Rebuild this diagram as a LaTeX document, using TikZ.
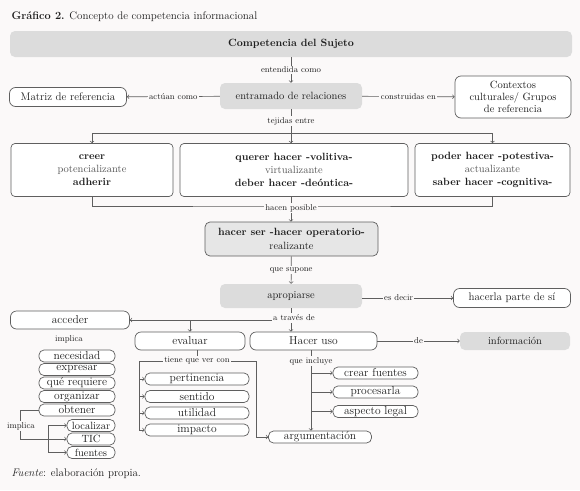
\documentclass[tikz,border=0pt]{standalone}
\usepackage{tikz}
\usetikzlibrary{positioning, arrows}

\definecolor{paper}{RGB}{251,249,249}
\definecolor{boxgray}{RGB}{220,220,220}
\definecolor{midgray}{RGB}{230,230,230}
\definecolor{edgegray}{RGB}{95,95,95}
\definecolor{subgray}{RGB}{85,85,85}
\definecolor{ink}{RGB}{30,30,30}

\tikzset{
  graybox/.style={fill=boxgray, rounded corners=5pt, inner sep=0pt, align=center},
  framebox/.style={draw=edgegray, fill=white, rounded corners=6pt, line width=0.7pt, inner sep=0pt, align=center},
  softbox/.style={draw=edgegray, fill=white, rounded corners=4pt, line width=0.7pt, inner sep=0pt, align=center, font=\fontsize{10.5}{13}\selectfont},
  pill/.style={framebox, rounded corners=5pt, minimum height=12pt, font=\fontsize{11.5}{11}\selectfont},
  lbl/.style={fill=paper, font=\fontsize{8.5}{9}\selectfont, inner sep=1.5pt},
  conn/.style={draw=edgegray, line width=0.7pt},
}

\begin{document}
\begin{tikzpicture}[x=1pt, y=-1pt, font=\fontsize{10.5}{12}\selectfont, text=ink]
  \fill[paper] (0,0) rectangle (580,490);
  \useasboundingbox (0,0) rectangle (580,490);

  \node[anchor=west, font=\fontsize{11}{12}\selectfont] (title) at (8,17) {\textbf{Gráfico 2.} Concepto de competencia informacional};

  % upper part
  \node[graybox, minimum width=562pt, minimum height=26pt, font=\bfseries\fontsize{10.5}{12}\selectfont] (sujeto) at (291,44) {Competencia del Sujeto};
  \node[graybox, minimum width=142pt, minimum height=26pt] (entramado) at (291,96) {entramado de relaciones};
  \node[framebox, minimum width=117pt, minimum height=19pt, font=\fontsize{11}{12}\selectfont] (matriz) at (68,97) {Matriz de referencia};
  \node[framebox, minimum width=116pt, minimum height=42pt, text width=114pt, font=\fontsize{10.5}{12}\selectfont] (contextos) at (513,97) {Contextos\\ culturales/ Grupos\\ de referencia};
  \draw[conn,->] (sujeto) -- node[lbl] {entendida como} (entramado);
  \draw[conn,->] (entramado) -- node[lbl] {actúan como} (matriz);
  \draw[conn,->] (entramado) -- node[lbl] {construidas en} (contextos);

  \node[softbox, minimum width=162pt, minimum height=53pt] (creer) at (92,170) {\textbf{creer}\\ {\color{subgray}potencializante}\\ \textbf{adherir}};
  \node[softbox, minimum width=228pt, minimum height=53pt] (querer) at (294,170) {\textbf{querer hacer -volitiva-}\\ {\color{subgray}virtualizante}\\ \textbf{deber hacer -deóntica-}};
  \node[softbox, minimum width=155pt, minimum height=53pt] (poder) at (492.5,170) {\textbf{poder hacer -potestiva-}\\ {\color{subgray}actualizante}\\ \textbf{saber hacer -cognitiva-}};

  \coordinate (split) at (291,133);
  \draw[conn] (entramado) -- (split);
  \draw[conn,->] (split) -| (creer.north);
  \draw[conn,->] (split) -- (split |- querer.north);
  \draw[conn,->] (split) -| (poder.north);
  \node[lbl] (tejidas) at (291,121) {tejidas entre};

  % middle part
  \node[draw=edgegray, fill=midgray, rounded corners=5pt, line width=0.7pt, inner sep=0pt, align=center, minimum width=173pt, minimum height=34pt, font=\fontsize{10.5}{14}\selectfont] (hacerser) at (291.5,239) {\textbf{hacer ser -hacer operatorio-}\\ realizante};
  \coordinate (join) at (291,206);
  \draw[conn] (creer.south) |- (join) -| (poder.south);
  \draw[conn,->] (querer.south -| join) -- (join |- hacerser.north);
  \node[lbl] (posible) at (291,208) {hacen posible};

  \node[graybox, minimum width=142pt, minimum height=24pt] (apropiarse) at (291,296) {apropiarse};
  \node[framebox, minimum width=117pt, minimum height=19pt, font=\fontsize{11}{12}\selectfont] (hacerla) at (512,298) {hacerla parte de sí};
  \draw[conn,->] (hacerser) -- node[lbl] {que supone} (apropiarse);
  \draw[conn,->] (apropiarse.east |- hacerla) -- node[lbl, pos=0.4] {es decir} (hacerla);

  % lower part
  \node[framebox, minimum width=119pt, minimum height=18pt, font=\fontsize{11.5}{12}\selectfont] (acceder) at (70,320) {acceder};
  \node[framebox, minimum width=110pt, minimum height=18pt, font=\fontsize{11.5}{12}\selectfont] (evaluar) at (190,341) {evaluar};
  \node[framebox, minimum width=127pt, minimum height=18pt, font=\fontsize{11.5}{12}\selectfont] (usar) at (313.5,341) {Hacer uso};
  \node[graybox, minimum width=110pt, minimum height=18pt] (informacion) at (515,341) {información};

  \coordinate (via) at (291,320);
  \draw[conn] (apropiarse) -- (via);
  \draw[conn,->] (via) -- (acceder);
  \draw[conn,->] (via -| evaluar) -- (evaluar);
  \draw[conn,->] (via) -- (via |- usar.north);
  \node[lbl] (traves) at (294,318) {a través de};
  \draw[conn,->] (usar) -- node[lbl] {de} (informacion);

  % acceder
  \node[lbl] (implica) at (69,339) {implica};
  \node[pill, minimum width=76pt] (necesidad) at (77,356) {necesidad};
  \node[pill, minimum width=76pt] (expresar) at (77,369.5) {expresar};
  \node[pill, minimum width=76pt] (requiere) at (77,383) {qué requiere};
  \node[pill, minimum width=76pt] (organizar) at (77,396.5) {organizar};
  \node[pill, minimum width=76pt] (obtener) at (77,410) {obtener};
  \node[pill, minimum width=48pt, font=\fontsize{10.5}{11}\selectfont] (localizar) at (91,425.5) {localizar};
  \node[pill, minimum width=48pt, font=\fontsize{10.5}{11}\selectfont] (tic) at (91,439) {TIC};
  \node[pill, minimum width=48pt, font=\fontsize{10.5}{11}\selectfont] (fuentes) at (91,452.5) {fuentes};
  \coordinate (obtfork) at (48,439);
  \draw[conn] (obtener.west) -- ++(-18,0) |- (obtfork);
  \draw[conn,->] (obtfork) |- (localizar);
  \draw[conn,->] (obtfork) -- (tic);
  \draw[conn,->] (obtfork) |- (fuentes);
  \node[lbl] (implica2) at (21,426) {implica};

  % evaluar
  \node[pill, minimum width=104pt] (pertinencia) at (197,379) {pertinencia};
  \node[pill, minimum width=104pt] (sentido) at (197,396.5) {sentido};
  \node[pill, minimum width=104pt] (utilidad) at (197,413) {utilidad};
  \node[pill, minimum width=104pt] (impacto) at (197,430) {impacto};
  \node[pill, minimum width=103pt] (argumentacion) at (320,437) {argumentación};
  \coordinate (evalfork) at (197,361);
  \coordinate (evalleft) at (139,361);
  \coordinate (evalright) at (256,361);
  \draw[conn] (evaluar.south -| evalfork) -- (evalfork);
  \draw[conn] (evalleft) -- (evalright);
  \draw[conn,->] (evalleft |- pertinencia) -- (pertinencia);
  \draw[conn,->] (evalleft |- sentido) -- (sentido);
  \draw[conn,->] (evalleft |- utilidad) -- (utilidad);
  \draw[conn,->] (evalleft) |- (impacto);
  \draw[conn,->] (evalright) |- (argumentacion);
  \node[lbl] (tiene) at (197,361) {tiene que ver con};

  % hacer uso
  \node[pill, minimum width=85pt] (crear) at (375.5,373) {crear fuentes};
  \node[pill, minimum width=85pt] (procesarla) at (375.5,392) {procesarla};
  \node[pill, minimum width=85pt] (legal) at (375.5,411.5) {aspecto legal};
  \coordinate (usefork) at (311,361);
  \draw[conn,->] (usar.south -| usefork) -- (usefork |- argumentacion.north);
  \draw[conn,->] (usefork |- crear) -- (crear);
  \draw[conn,->] (usefork |- procesarla) -- (procesarla);
  \draw[conn,->] (usefork |- legal) -- (legal);
  \node[lbl] (incluye) at (311,361) {que incluye};

  \node[anchor=west, font=\fontsize{11}{12}\selectfont] (fuente) at (8,474) {\textit{Fuente}: elaboración propia.};
\end{tikzpicture}
\end{document}
